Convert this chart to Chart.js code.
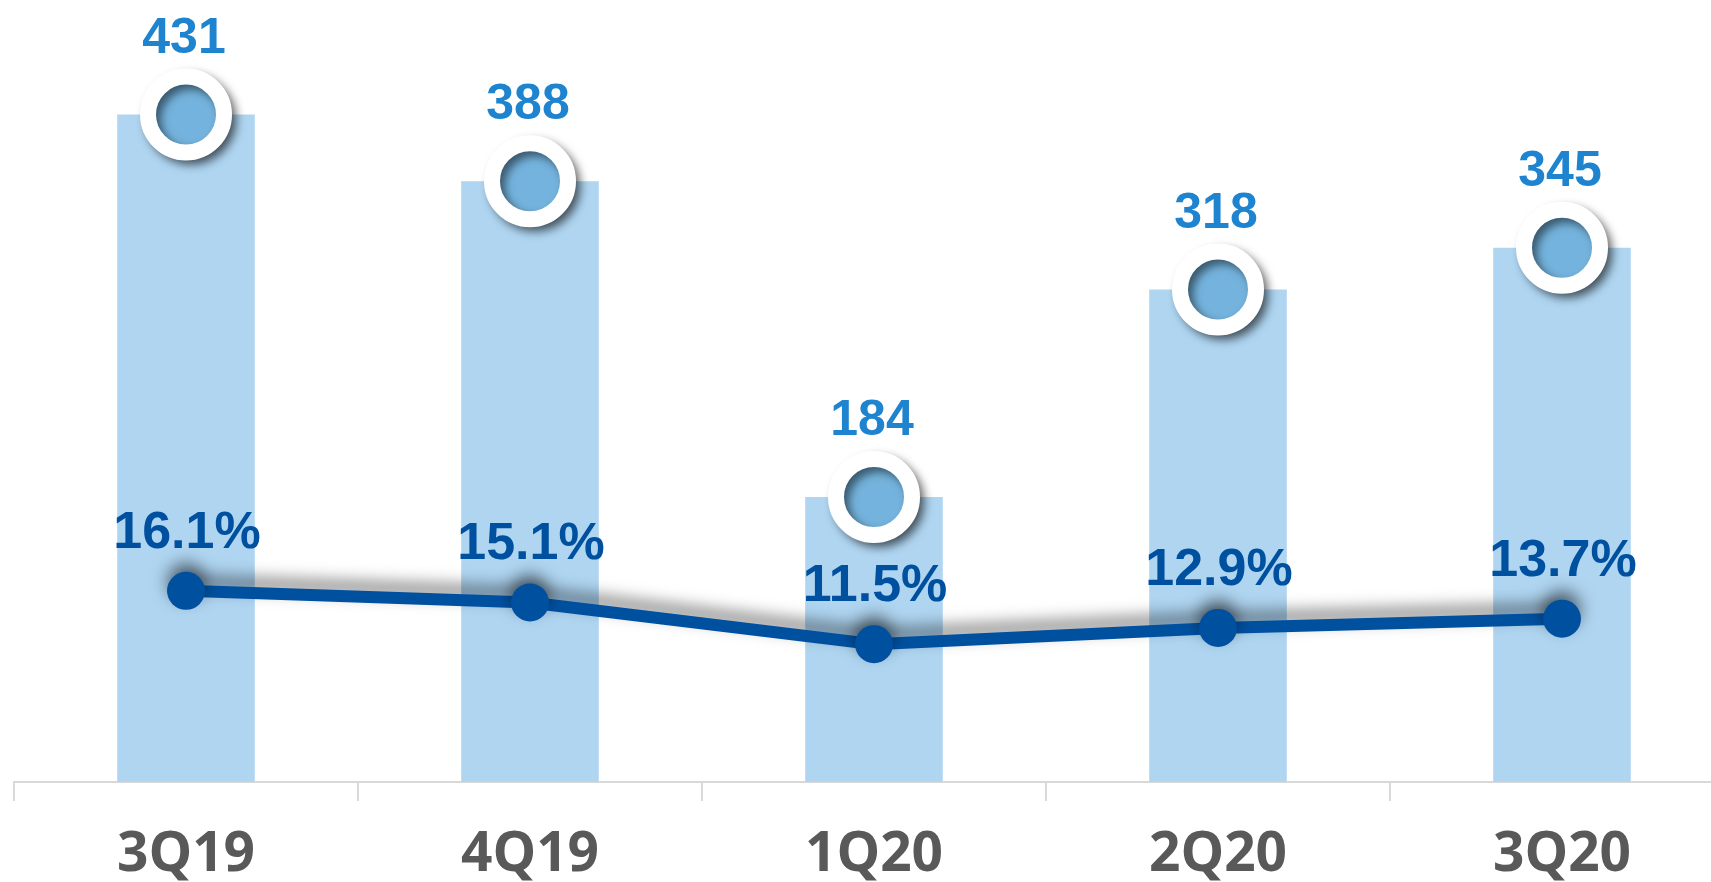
<!DOCTYPE html>
<html>
<head>
<meta charset="utf-8">
<script src="https://cdn.jsdelivr.net/npm/chart.js@4"></script>
<style>
  html, body { margin: 0; padding: 0; background: #fff; overflow: hidden; }
  #grafico { display: block; }
</style>
</head>
<body>
<canvas id="grafico" width="1748" height="882"></canvas>
<script>
const trimestres = ["3Q19", "4Q19", "1Q20", "2Q20", "3Q20"];
const valores = [431, 388, 184, 318, 345];
const margens = [16.1, 15.1, 11.5, 12.9, 13.7];

// sombra na linha e nos circulos
const sombras = {
  id: "sombras",
  beforeDatasetDraw(chart, args) {
    const ctx = chart.ctx;
    ctx.save();
    if (args.index === 1) {
      ctx.shadowColor = "rgba(0,0,0,0.5)";
      ctx.shadowBlur = 16;
      ctx.shadowOffsetY = -9;
    } else if (args.index === 2) {
      ctx.shadowColor = "rgba(0,0,0,0.5)";
      ctx.shadowBlur = 8;
      ctx.shadowOffsetX = 5;
      ctx.shadowOffsetY = 5;
    }
  },
  afterDatasetDraw(chart) {
    chart.ctx.restore();
  }
};

const rotulos = {
  id: "rotulos",
  afterDatasetsDraw(chart) {
    const ctx = chart.ctx;
    ctx.save();
    ctx.textAlign = "center";
    ctx.textBaseline = "alphabetic";
    const circulos = chart.getDatasetMeta(2).data;
    ctx.font = "bold 50px 'Liberation Sans', Arial, sans-serif";
    ctx.fillStyle = "#1F84CF";
    circulos.forEach((p, i) => ctx.fillText(valores[i], p.x - 2, p.y - 62));
    const pontos = chart.getDatasetMeta(1).data;
    ctx.font = "bold 52px 'Liberation Sans', Arial, sans-serif";
    ctx.fillStyle = "#0050A0";
    pontos.forEach((p, i) => ctx.fillText(margens[i].toFixed(1) + "%", p.x + 1, p.y - 43));
    ctx.restore();
  }
};

new Chart(document.getElementById("grafico"), {
  data: {
    labels: trimestres,
    datasets: [
      {type: "bar", data: valores, yAxisID: "y", backgroundColor: "#AFD5F1",
       categoryPercentage: 1, barPercentage: 0.4, order: 3},
      {type: "line", data: margens, yAxisID: "y2", borderColor: "#0050A0", borderWidth: 12,
       pointRadius: 19, pointBackgroundColor: "#0050A0", pointBorderWidth: 0,
       tension: 0, order: 2, clip: false},
      {type: "line", data: valores, yAxisID: "y", showLine: false,
       pointRadius: 38, pointBorderWidth: 16, pointBackgroundColor: "#74B3DD",
       pointBorderColor: "#FFFFFF", order: 1, clip: false}
    ]
  },
  options: {
    responsive: false,
    animation: false,
    layout: {autoPadding: false, padding: {left: 14, right: 14, top: 0, bottom: 0}},
    plugins: {legend: {display: false}, tooltip: {enabled: false}},
    scales: {
      x: {
        offset: true,
        grid: {offset: true, drawOnChartArea: false, drawTicks: true, tickLength: 19,
               color: "#D9D9D9", lineWidth: 2},
        border: {display: true, color: "#D9D9D9", width: 2},
        ticks: {padding: 27, color: "#595959",
                font: {family: "'Open Sans', sans-serif", size: 55, weight: "bold", lineHeight: 1}},
        afterFit(scale) {
          scale.paddingLeft = 0;
          scale.paddingRight = 0;
          scale.height = 100;
        }
      },
      y: {display: false, min: 0, max: 505},
      y2: {display: false, min: -0.4, max: 67.1}
    }
  },
  plugins: [sombras, rotulos]
});
</script>
</body>
</html>
